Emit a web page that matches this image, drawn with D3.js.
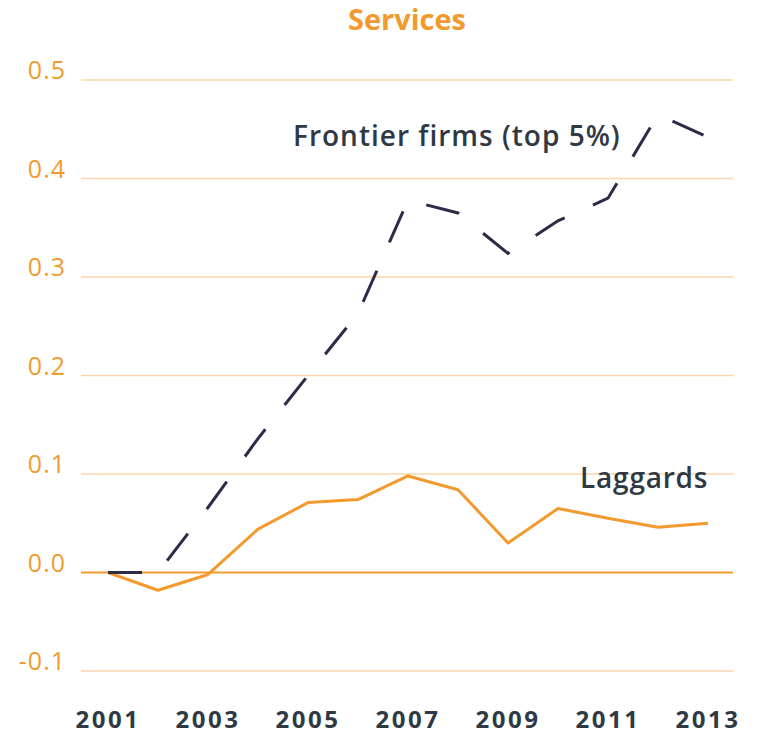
<!DOCTYPE html>
<html>
<head>
<meta charset="utf-8">
<script src="https://cdn.jsdelivr.net/npm/d3@7"></script>
<style>
  html, body { margin: 0; padding: 0; background: #ffffff; }
  svg { display: block; }
  text { font-family: "Open Sans", "DejaVu Sans", sans-serif; }
</style>
</head>
<body>
<svg id="chart" width="757" height="734"></svg>
<script>
const years = [2001, 2002, 2003, 2004, 2005, 2006, 2007, 2008, 2009, 2010, 2011, 2012, 2013];
const frontier = [0.000, 0.000, 0.066, 0.136, 0.200, 0.263, 0.378, 0.365, 0.324, 0.357, 0.380, 0.465, 0.442];
const laggards = [0.000, -0.018, -0.002, 0.044, 0.071, 0.074, 0.098, 0.084, 0.030, 0.065, 0.055, 0.046, 0.050];
const yTicks = [-0.1, 0.0, 0.1, 0.2, 0.3, 0.4, 0.5];
const xTicks = [2001, 2003, 2005, 2007, 2009, 2011, 2013];
const title = "Services";
const frontierLabel = "Frontier firms (top 5%)";
const laggardsLabel = "Laggards";

const svg = d3.select("#chart");
const orange = "#f39a2e";
const grid = "#fcd5ae";
const navy = "#2c2b48";
const textDark = "#2f3944";

const x = d3.scaleLinear().domain([2001, 2013]).range([108, 708]);
const y = d3.scaleLinear().domain([-0.1, 0.5]).range([671, 80]);
const gridX0 = 81, gridX1 = 733;

// gridlines
svg.append("g").selectAll("line").data(yTicks).join("line")
  .attr("x1", gridX0).attr("x2", gridX1)
  .attr("y1", d => y(d)).attr("y2", d => y(d))
  .attr("stroke", d => d === 0 ? orange : grid)
  .attr("stroke-width", d => d === 0 ? 2 : 1.5);

// y labels
svg.append("g").selectAll("text").data(yTicks).join("text")
  .attr("x", 66).attr("y", d => y(d) - 1)
  .attr("text-anchor", "end")
  .attr("fill", orange).attr("font-size", 25).attr("letter-spacing", 1)
  .text(d => d3.format(".1f")(d).replace("−", "-"));

// x labels
svg.append("g").selectAll("text").data(xTicks).join("text")
  .attr("x", d => x(d)).attr("y", 727.5)
  .attr("text-anchor", "middle")
  .attr("fill", textDark).attr("font-size", 24).attr("font-weight", 700)
  .attr("letter-spacing", 2.5)
  .text(d => d);

// lines
const line = d3.line().x((d, i) => x(years[i])).y(d => y(d));

svg.append("path").datum(laggards)
  .attr("d", line).attr("fill", "none")
  .attr("stroke", orange).attr("stroke-width", 3)
  .attr("stroke-linejoin", "round");

svg.append("path").datum(frontier)
  .attr("d", line).attr("fill", "none")
  .attr("stroke", navy).attr("stroke-width", 3)
  .attr("stroke-dasharray", "34,31");

// title
svg.append("text").attr("x", 407).attr("y", 30)
  .attr("text-anchor", "middle").attr("fill", orange)
  .attr("font-size", 29).attr("font-weight", 700)
  .text(title);

// series labels
svg.append("text").attr("x", 293).attr("y", 146)
  .attr("fill", textDark).attr("font-size", 28).attr("font-weight", 600)
  .attr("letter-spacing", 1)
  .text(frontierLabel);

svg.append("text").attr("x", 580).attr("y", 488)
  .attr("fill", textDark).attr("font-size", 28).attr("font-weight", 600)
  .attr("letter-spacing", 0.8)
  .text(laggardsLabel);
</script>
</body>
</html>
